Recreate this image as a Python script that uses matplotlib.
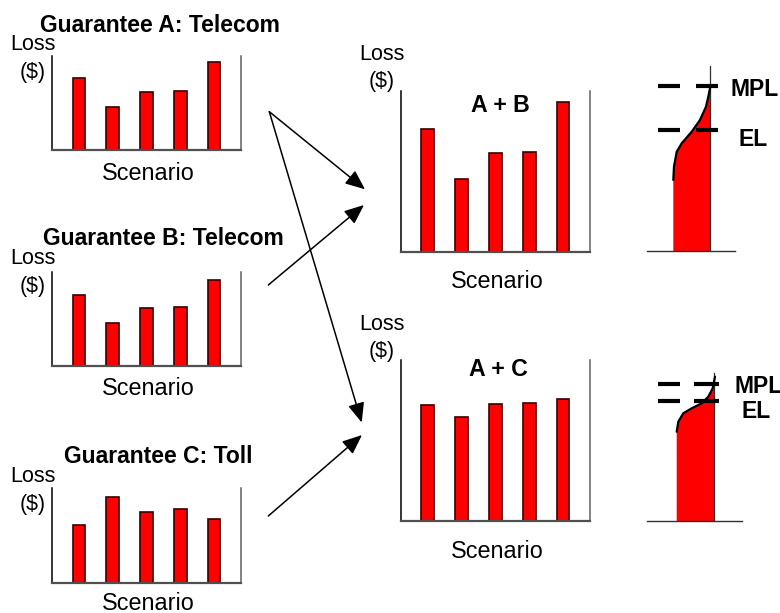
import matplotlib
matplotlib.use('Agg')
import matplotlib.pyplot as plt

plt.rcParams['font.family'] = ['Liberation Sans', 'DejaVu Sans']

# ---------------- data ----------------
scenarios = [0, 1, 2, 3, 4]
loss_a = [77, 46, 62, 62.5, 94]
loss_b = [75, 45, 61, 62, 91.5]
loss_c = [61, 91, 75, 78, 67]
loss_ab = [152, 90, 123, 124, 186]
loss_ac = [144, 129, 145, 146, 151]
titles_small = ["Guarantee A: Telecom", "Guarantee B: Telecom", "Guarantee C: Toll"]
titles_combo = ["A + B", "A + C"]
ylabel_lines = ["Loss", "($)"]
xlabel = "Scenario"

# loss distributions (horizontal density profile, local units)
dist_ab_density = [33.3, 34.0, 36.7, 41.7, 51.7, 60.0, 66.0, 68.3, 70.0]
dist_ab_loss = [71, 84.3, 99.3, 107.7, 119.3, 131, 144.3, 154.3, 162.7]
dist_ab_mpl = 165.3
dist_ab_el = 121
dist_ac_density = [36.7, 38.3, 43.3, 51.7, 61.7, 68.3, 72.7, 75.0]
dist_ac_loss = [89.3, 99.3, 107.7, 112.7, 117.7, 124.3, 132.7, 144.3]
dist_ac_mpl = 137
dist_ac_el = 120.3

W, H = 780, 613
fig = plt.figure(figsize=(W / 100, H / 100), dpi=100)

RED = '#ff0000'
EDGE = '#3a0000'


def rect(x0, y_top, x1, y_bot):
    return [x0 / W, 1 - y_bot / H, (x1 - x0) / W, (y_bot - y_top) / H]


def bar_panel(r, values, ymax):
    ax = fig.add_axes(r)
    ax.bar(scenarios, values, width=0.38, color=RED, edgecolor=EDGE, linewidth=1.2, zorder=2)
    ax.set_xlim(-0.8, 4.8)
    ax.set_ylim(0, ymax)
    ax.set_xticks([])
    ax.set_yticks([])
    ax.spines['top'].set_visible(False)
    ax.spines['left'].set_color('black')
    ax.spines['left'].set_linewidth(1.1)
    ax.spines['bottom'].set_color('#505050')
    ax.spines['bottom'].set_linewidth(1.6)
    ax.spines['right'].set_color('#606060')
    ax.spines['right'].set_linewidth(1.1)
    ax.patch.set_alpha(0)
    return ax


bar_panel(rect(52, 56, 241, 150), loss_a, 100)
bar_panel(rect(52, 271.7, 241, 365.7), loss_b, 100)
bar_panel(rect(52, 488.3, 241, 582.7), loss_c, 100)
bar_panel(rect(400.7, 90.7, 590, 251.7), loss_ab, 200)
bar_panel(rect(400.7, 360, 590, 520.7), loss_ac, 200)


def dist_panel(r, h, dens, loss, xr, ytop, base_x, mpl, el, dash_x, mpl_pos, el_pos):
    ax = fig.add_axes(r)
    ax.set_xlim(0, 140)
    ax.set_ylim(0, h)
    ax.axis('off')
    px = [dens[0]] + list(dens) + [xr, xr]
    py = [0] + list(loss) + [loss[-1], 0]
    ax.fill(px, py, color=RED, lw=0, zorder=1)
    ax.plot(dens, loss, color='black', lw=1.6, zorder=3, solid_capstyle='round')
    ax.plot([xr, xr], [0, ytop], color='#303030', lw=0.9, zorder=2)
    ax.plot(base_x, [0, 0], color='#303030', lw=1.0, clip_on=False, zorder=2)
    for yv in (mpl, el):
        for seg in dash_x:
            ax.plot(seg, [yv, yv], color='black', lw=3.0, solid_capstyle='butt', zorder=4)
    ax.text(mpl_pos[0], mpl_pos[1], "MPL", fontsize=16.5, fontweight='bold',
            ha='left', va='center', clip_on=False)
    ax.text(el_pos[0], el_pos[1], "EL", fontsize=16.5, fontweight='bold',
            ha=el_pos[2], va='center', clip_on=False)
    return ax


dist_panel(rect(640, 60, 780, 251), 191, dist_ab_density, dist_ab_loss, 70, 185,
           [6.7, 95], dist_ab_mpl, dist_ab_el, [[17.7, 40], [56, 77.7]],
           (90.5, 162), (99, 112, 'left'))
dist_panel(rect(640, 360, 780, 521), 161, dist_ac_density, dist_ac_loss, 74.3, 148,
           [6.7, 101.7], dist_ac_mpl, dist_ac_el, [[17.7, 40], [54, 79]],
           (94.5, 134.3), (116.5, 109.5, 'center'))

# overlay for text and arrows (pixel coordinates)
ov = fig.add_axes([0, 0, 1, 1], zorder=10)
ov.set_xlim(0, W)
ov.set_ylim(H, 0)
ov.axis('off')
ov.patch.set_alpha(0)

small_title_pos = [(160, 31.5), (163, 245), (158.5, 463)]
small_loss_y = [(50, 78), (264, 292), (481.5, 510)]
small_scen_y = [180, 395, 609.5]
for t, (tx, ty), (l1, l2), sy in zip(titles_small, small_title_pos, small_loss_y, small_scen_y):
    ov.text(tx, ty, t, fontsize=16.5, fontweight='bold', ha='center', va='baseline')
    ov.text(33, l1, ylabel_lines[0], fontsize=15.5, ha='center', va='baseline')
    ov.text(33, l2, ylabel_lines[1], fontsize=15.5, ha='center', va='baseline')
    ov.text(148.5, sy, xlabel, fontsize=16.8, ha='center', va='baseline')

combo_title_pos = [(500, 111.5), (498.5, 376)]
combo_loss_y = [(60.5, 86.5), (330.5, 356.5)]
combo_scen_y = [288, 558]
for t, (tx, ty), (l1, l2), sy in zip(titles_combo, combo_title_pos, combo_loss_y, combo_scen_y):
    ov.text(tx, ty, t, fontsize=16.7, fontweight='bold', ha='center', va='baseline')
    ov.text(381.7, l1, ylabel_lines[0], fontsize=15.5, ha='center', va='baseline')
    ov.text(381.7, l2, ylabel_lines[1], fontsize=15.5, ha='center', va='baseline')
    ov.text(497.5, sy, xlabel, fontsize=16.8, ha='center', va='baseline')

arrows = [((269.3, 111.7), (365, 189.3)),
          ((269.3, 111.7), (361.7, 422.5)),
          ((268.3, 285), (364, 205)),
          ((268.3, 516), (362, 435))]
for (sx, sy), (ex, ey) in arrows:
    ov.annotate('', xy=(ex, ey), xytext=(sx, sy),
                arrowprops=dict(arrowstyle='-|>,head_length=1.0,head_width=0.42',
                                mutation_scale=12, color='black', lw=1.1,
                                shrinkA=0, shrinkB=0))

fig.savefig('out.png', dpi=100)
